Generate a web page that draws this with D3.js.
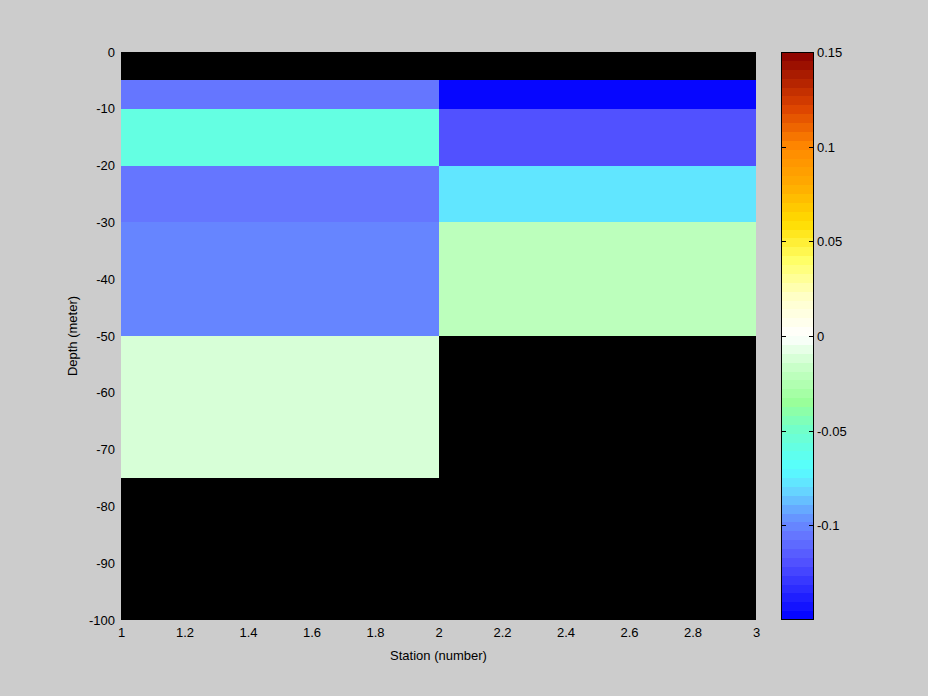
<!DOCTYPE html>
<html>
<head>
<meta charset="utf-8">
<script src="https://cdn.jsdelivr.net/npm/d3@7"></script>
<style>
  html, body { margin: 0; padding: 0; background: #cccccc; }
  svg { display: block; }
  text { font-family: "Liberation Sans", Arial, sans-serif; font-size: 13px; fill: #000; }
</style>
</head>
<body>
<svg id="chart" width="928" height="696"></svg>
<script>
// ---- data ----
const stationEdges = [1, 2, 3];
const depthEdges = [0, -5, -10, -20, -30, -50, -75, -100];
const station1Values = [null, -0.107, -0.058, -0.107, -0.1, -0.013, null];
const station2Values = [null, -0.148, -0.12, -0.077, -0.02, null, null];
const xTicks = [1, 1.2, 1.4, 1.6, 1.8, 2, 2.2, 2.4, 2.6, 2.8, 3];
const yTicks = [0, -10, -20, -30, -40, -50, -60, -70, -80, -90, -100];
const cbTicks = [-0.1, -0.05, 0, 0.05, 0.1, 0.15];
const cbDomain = [-0.15, 0.15];
const nColors = 64;
// colormap anchor stops (value, colour)
const cmapStops = [
  [-0.15, "#0000ff"], [-0.12, "#5050ff"], [-0.105, "#6677ff"], [-0.095, "#6699ff"],
  [-0.08, "#66ddff"], [-0.07, "#55ffff"], [-0.05, "#70ffcc"], [-0.035, "#99ff99"],
  [-0.015, "#ccffcc"], [0, "#ffffff"], [0.02, "#ffffcc"], [0.04, "#ffff66"],
  [0.06, "#ffdd00"], [0.08, "#ffaa00"], [0.1, "#ff8800"], [0.12, "#dd4400"], [0.15, "#880000"]
];

const fmt = v => d3.format("~g")(v).replace("\u2212", "-");

const svg = d3.select("#chart");
const plot = { left: 121, right: 756, top: 52, bottom: 620 };
const cb = { left: 781, right: 814, top: 52, bottom: 620 };

const x = d3.scaleLinear().domain([1, 3]).range([plot.left, plot.right]);
const y = d3.scaleLinear().domain([0, -100]).range([plot.top, plot.bottom]);

const contColor = d3.scaleLinear()
  .domain(cmapStops.map(d => d[0]))
  .range(cmapStops.map(d => d[1]))
  .interpolate(d3.interpolateRgb)
  .clamp(true);
const bandW = (cbDomain[1] - cbDomain[0]) / nColors;
const bands = d3.range(nColors).map(i => {
  const lo = cbDomain[0] + i * bandW;
  return { lo, hi: lo + bandW, color: contColor(lo + bandW / 2) };
});
const colorOf = v => {
  if (v == null) return "#000000";
  let i = Math.floor((v - cbDomain[0]) / bandW);
  i = Math.max(0, Math.min(nColors - 1, i));
  return bands[i].color;
};

// ---- cells ----
const columns = [station1Values, station2Values];
const cells = [];
columns.forEach((vals, c) => {
  vals.forEach((v, r) => {
    cells.push({ x0: stationEdges[c], x1: stationEdges[c + 1], y0: depthEdges[r], y1: depthEdges[r + 1], v });
  });
});
svg.append("g").selectAll("rect").data(cells).join("rect")
  .attr("x", d => x(d.x0))
  .attr("y", d => y(d.y0))
  .attr("width", d => x(d.x1) - x(d.x0))
  .attr("height", d => y(d.y1) - y(d.y0))
  .attr("fill", d => colorOf(d.v))
  .attr("shape-rendering", "crispEdges");

// ---- axes ----
const xAxis = d3.axisBottom(x).tickValues(xTicks).tickSize(0).tickPadding(8).tickFormat(fmt);
const gx = svg.append("g").attr("transform", `translate(0,${plot.bottom})`).call(xAxis);
gx.select(".domain").remove();
gx.selectAll("text").style("font-family", "Liberation Sans, Arial, sans-serif").style("font-size", "13px");

const yAxis = d3.axisLeft(y).tickValues(yTicks).tickSize(0).tickPadding(6).tickFormat(fmt);
const gy = svg.append("g").attr("transform", `translate(${plot.left},0)`).call(yAxis);
gy.select(".domain").remove();
gy.selectAll("text").style("font-family", "Liberation Sans, Arial, sans-serif").style("font-size", "13px");

svg.append("text").attr("x", (plot.left + plot.right) / 2).attr("y", 660)
  .attr("text-anchor", "middle").text("Station (number)");
svg.append("text")
  .attr("transform", `translate(77,${(plot.top + plot.bottom) / 2}) rotate(-90)`)
  .attr("text-anchor", "middle").text("Depth (meter)");

// ---- colorbar ----
const cy = d3.scaleLinear().domain(cbDomain).range([cb.bottom, cb.top]);
svg.append("g").selectAll("rect").data(bands).join("rect")
  .attr("x", cb.left).attr("width", cb.right - cb.left)
  .attr("y", d => cy(d.hi)).attr("height", d => cy(d.lo) - cy(d.hi))
  .attr("fill", d => d.color).attr("shape-rendering", "crispEdges");
svg.append("rect").attr("x", cb.left + 0.5).attr("y", cb.top + 0.5)
  .attr("width", cb.right - cb.left - 1).attr("height", cb.bottom - cb.top - 1)
  .attr("fill", "none").attr("stroke", "#000").attr("stroke-width", 1);
const cbt = svg.append("g");
cbTicks.forEach(t => {
  const yy = Math.round(cy(t)) + 0.5;
  cbt.append("line").attr("x1", cb.left).attr("x2", cb.left + 5).attr("y1", yy).attr("y2", yy).attr("stroke", "#000");
  cbt.append("line").attr("x1", cb.right - 5).attr("x2", cb.right).attr("y1", yy).attr("y2", yy).attr("stroke", "#000");
  cbt.append("text").attr("x", cb.right + 3).attr("y", yy).attr("dy", "0.35em").text(fmt(t));
});
</script>
</body>
</html>
